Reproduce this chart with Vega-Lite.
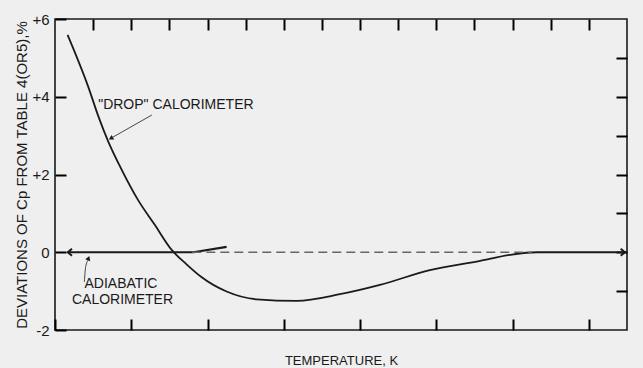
{
  "$schema": "https://vega.github.io/schema/vega-lite/v6.json",
  "width": 572,
  "height": 311,
  "autosize": {"type": "none"},
  "padding": {"left": 55, "top": 19, "right": 16, "bottom": 38},
  "background": "#efefef",
  "view": {"stroke": "#1a1a1a", "strokeWidth": 1.6},
  "config": {
    "font": "Liberation Sans",
    "axis": {
      "grid": false,
      "domain": false,
      "ticks": true,
      "zindex": 1,
      "tickColor": "#000000",
      "tickWidth": 2,
      "tickSize": 11,
      "offset": -11,
      "labelColor": "#1a1a1a",
      "titleColor": "#1a1a1a",
      "labelFont": "Liberation Sans",
      "titleFont": "Liberation Sans",
      "labelFontSize": 15,
      "titleFontWeight": "normal",
      "labelOverlap": false
    }
  },
  "datasets": {
    "drop": [
      {"T": 273.3, "v": 5.59},
      {"T": 278.7, "v": 4.26},
      {"T": 281.4, "v": 3.49},
      {"T": 284.0, "v": 2.84},
      {"T": 287.5, "v": 2.12},
      {"T": 291.8, "v": 1.34},
      {"T": 296.2, "v": 0.70},
      {"T": 300.6, "v": 0.06},
      {"T": 304.5, "v": -0.31},
      {"T": 308.3, "v": -0.63},
      {"T": 315.0, "v": -1.01},
      {"T": 322.9, "v": -1.21},
      {"T": 333.4, "v": -1.25},
      {"T": 344.7, "v": -1.08},
      {"T": 355.2, "v": -0.84},
      {"T": 368.3, "v": -0.46},
      {"T": 381.5, "v": -0.22},
      {"T": 389.3, "v": -0.07},
      {"T": 396.3, "v": 0.0},
      {"T": 420.0, "v": 0.0}
    ],
    "adiabatic": [
      {"T": 273.3, "v": 0},
      {"T": 306.3, "v": 0},
      {"T": 315.0, "v": 0.14}
    ],
    "dashed": [
      {"T": 306, "v": 0},
      {"T": 395, "v": 0}
    ],
    "dropArrow": [
      {"T": 295.4, "v": 3.53},
      {"T": 284.8, "v": 2.94}
    ],
    "dropHead": [{"T": 284.65, "v": 2.93}],
    "adiaArrow": [
      {"T": 277.7, "v": -0.76},
      {"T": 278.05, "v": -0.37},
      {"T": 278.7, "v": -0.2}
    ],
    "adiaHead": [{"T": 278.8, "v": -0.15}],
    "leftHead": [{"T": 273.9, "v": 0}],
    "rightHead": [{"T": 418.9, "v": 0}],
    "dropLabel": [{"T": 301.7, "v": 3.79, "label": "\"DROP\" CALORIMETER"}],
    "adiaLabel": [
      {"T": 287.3, "v": -0.82, "label": "ADIABATIC"},
      {"T": 287.7, "v": -1.23, "label": "CALORIMETER"}
    ]
  },
  "layer": [
    {
      "layer": [
        {
          "data": {"name": "drop"},
          "mark": {"type": "line", "color": "#1a1a1a", "strokeWidth": 1.8, "interpolate": "monotone"},
          "encoding": {
            "x": {
              "field": "T", "type": "quantitative",
              "scale": {"domain": [270, 420], "nice": false, "zero": false},
              "axis": {
                "orient": "bottom",
                "values": [270, 280, 290, 300, 310, 320, 330, 340, 350, 360, 370, 380, 390, 400, 410, 420],
                "labelPadding": 3,
                "labelFlush": false,
                "labelExpr": "datum.value % 20 == 0 ? datum.value + '' : ''",
                "title": "TEMPERATURE, K",
                "titleFontSize": 13,
                "titlePadding": 6
              }
            },
            "y": {
              "field": "v", "type": "quantitative",
              "scale": {"domain": [-2, 6], "nice": false, "zero": false},
              "axis": {
                "orient": "left",
                "values": [-2, -1, 0, 1, 2, 3, 4, 5, 6],
                "labelPadding": 6,
                "labelExpr": "datum.value % 2 != 0 ? '' : (datum.value > 0 ? '+' + datum.value : '' + datum.value)",
                "title": "DEVIATIONS OF Cp FROM TABLE 4(OR5),%",
                "titleFontSize": 15,
                "titlePadding": 2
              }
            }
          }
        },
        {
          "data": {"name": "adiabatic"},
          "mark": {"type": "line", "color": "#1a1a1a", "strokeWidth": 2.2},
          "encoding": {
            "x": {"field": "T", "type": "quantitative"},
            "y": {"field": "v", "type": "quantitative"}
          }
        },
        {
          "data": {"name": "dropArrow"},
          "mark": {"type": "line", "color": "#333333", "strokeWidth": 0.9},
          "encoding": {
            "x": {"field": "T", "type": "quantitative"},
            "y": {"field": "v", "type": "quantitative"}
          }
        },
        {
          "data": {"name": "dropHead"},
          "mark": {"type": "point", "shape": "triangle-up", "filled": true, "color": "#1a1a1a", "size": 28, "angle": 240, "opacity": 1},
          "encoding": {
            "x": {"field": "T", "type": "quantitative"},
            "y": {"field": "v", "type": "quantitative"}
          }
        },
        {
          "data": {"name": "adiaArrow"},
          "mark": {"type": "line", "color": "#333333", "strokeWidth": 0.9, "interpolate": "monotone"},
          "encoding": {
            "x": {"field": "T", "type": "quantitative"},
            "y": {"field": "v", "type": "quantitative"}
          }
        },
        {
          "data": {"name": "adiaHead"},
          "mark": {"type": "point", "shape": "triangle-up", "filled": true, "color": "#1a1a1a", "size": 28, "angle": 20, "opacity": 1},
          "encoding": {
            "x": {"field": "T", "type": "quantitative"},
            "y": {"field": "v", "type": "quantitative"}
          }
        },
        {
          "data": {"name": "leftHead"},
          "mark": {"type": "point", "shape": "M 0.6 -1 L -0.6 0 L 0.6 1", "filled": false, "stroke": "#1a1a1a", "strokeWidth": 2, "size": 49, "opacity": 1},
          "encoding": {
            "x": {"field": "T", "type": "quantitative"},
            "y": {"field": "v", "type": "quantitative"}
          }
        },
        {
          "data": {"name": "rightHead"},
          "mark": {"type": "point", "shape": "M -0.6 -1 L 0.6 0 L -0.6 1", "filled": false, "stroke": "#1a1a1a", "strokeWidth": 2, "size": 49, "opacity": 1},
          "encoding": {
            "x": {"field": "T", "type": "quantitative"},
            "y": {"field": "v", "type": "quantitative"}
          }
        },
        {
          "data": {"name": "dropLabel"},
          "mark": {"type": "text", "fontSize": 14, "color": "#1a1a1a", "align": "center", "baseline": "middle", "font": "Liberation Sans"},
          "encoding": {
            "x": {"field": "T", "type": "quantitative"},
            "y": {"field": "v", "type": "quantitative"},
            "text": {"field": "label"}
          }
        },
        {
          "data": {"name": "adiaLabel"},
          "mark": {"type": "text", "fontSize": 14, "color": "#1a1a1a", "align": "center", "baseline": "middle", "font": "Liberation Sans"},
          "encoding": {
            "x": {"field": "T", "type": "quantitative"},
            "y": {"field": "v", "type": "quantitative"},
            "text": {"field": "label"}
          }
        }
      ]
    },
    {
      "data": {"name": "dashed"},
      "mark": {"type": "line", "color": "#666666", "strokeWidth": 1.3, "strokeDash": [9, 5]},
      "encoding": {
        "x": {
          "field": "T", "type": "quantitative",
          "scale": {"domain": [270, 420], "nice": false, "zero": false},
          "axis": {
            "orient": "top",
            "values": [280, 290, 300, 310, 320, 330, 340, 350, 360, 370, 380, 390, 400, 410],
            "labels": false,
            "title": null
          }
        },
        "y": {
          "field": "v", "type": "quantitative",
          "scale": {"domain": [-2, 6], "nice": false, "zero": false},
          "axis": {
            "orient": "right",
            "values": [-1, 0, 1, 2, 3, 4, 5],
            "labels": false,
            "title": null
          }
        }
      }
    }
  ],
  "resolve": {"axis": {"x": "independent", "y": "independent"}}
}
